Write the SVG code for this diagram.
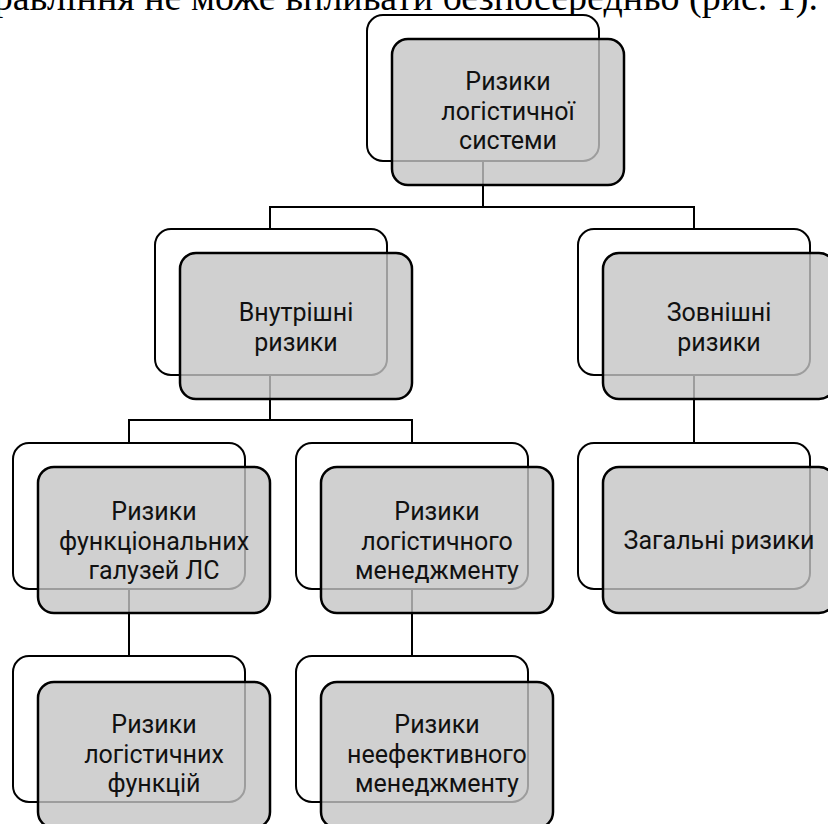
<svg xmlns="http://www.w3.org/2000/svg" width="828" height="824" viewBox="0 0 828 824">
<style>
.bg{fill:#fff}
.back{fill:#fff;stroke:#000;stroke-width:2}
.front{fill:#c4c4c4;fill-opacity:0.8;stroke:#000;stroke-width:2.5}
.lbl{font-family:Roboto,"Open Sans",sans-serif;font-size:25px;fill:#111;text-anchor:middle}
.conn{fill:none;stroke:#000;stroke-width:2}
.top{font-family:"Liberation Serif","Times New Roman",serif;font-size:38px;fill:#000;text-anchor:end}
</style>
<rect class="bg" x="0" y="0" width="828" height="824"/>
<text class="top" x="818" y="10">управління не може впливати безпосередньо (рис. 1).</text>
<g id="connectors">
<path class="conn" d="M483 160V207M270 229V207H694V229"/>
<path class="conn" d="M270 374V420M129 443V420H412V443"/>
<path class="conn" d="M694 375V443"/>
<path class="conn" d="M129 589V656"/>
<path class="conn" d="M412 589V656"/>
</g>
<g id="root">
<rect class="back" x="367" y="15" width="232" height="146" rx="16"/>
<rect class="front" x="392" y="39" width="232" height="146" rx="16"/>
<text class="lbl" x="508" y="90">Ризики</text>
<text class="lbl" x="508" y="119.5">логістичної</text>
<text class="lbl" x="508" y="149">системи</text>
</g>
<g id="internal">
<rect class="back" x="155" y="229" width="232" height="146" rx="16"/>
<rect class="front" x="180" y="253" width="232" height="146" rx="16"/>
<text class="lbl" x="296" y="321">Внутрішні</text>
<text class="lbl" x="296" y="350.5">ризики</text>
</g>
<g id="external">
<rect class="back" x="578" y="229" width="232" height="146" rx="16"/>
<rect class="front" x="603" y="253" width="232" height="146" rx="16"/>
<text class="lbl" x="719" y="321">Зовнішні</text>
<text class="lbl" x="719" y="350.5">ризики</text>
</g>
<g id="functional">
<rect class="back" x="13" y="443" width="232" height="146" rx="16"/>
<rect class="front" x="38" y="467" width="232" height="146" rx="16"/>
<text class="lbl" x="154" y="520">Ризики</text>
<text class="lbl" x="154" y="549.5">функціональних</text>
<text class="lbl" x="154" y="579">галузей ЛС</text>
</g>
<g id="management">
<rect class="back" x="296" y="443" width="232" height="146" rx="16"/>
<rect class="front" x="321" y="467" width="232" height="146" rx="16"/>
<text class="lbl" x="437" y="520">Ризики</text>
<text class="lbl" x="437" y="549.5">логістичного</text>
<text class="lbl" x="437" y="579">менеджменту</text>
</g>
<g id="general">
<rect class="back" x="578" y="443" width="232" height="146" rx="16"/>
<rect class="front" x="603" y="467" width="232" height="146" rx="16"/>
<text class="lbl" x="719" y="549">Загальні ризики</text>
</g>
<g id="logfunctions">
<rect class="back" x="13" y="656" width="232" height="146" rx="16"/>
<rect class="front" x="38" y="682" width="232" height="146" rx="16"/>
<text class="lbl" x="154" y="733">Ризики</text>
<text class="lbl" x="154" y="762.5">логістичних</text>
<text class="lbl" x="154" y="792">функцій</text>
</g>
<g id="inefficient">
<rect class="back" x="296" y="656" width="232" height="146" rx="16"/>
<rect class="front" x="321" y="682" width="232" height="146" rx="16"/>
<text class="lbl" x="437" y="733">Ризики</text>
<text class="lbl" x="437" y="762.5">неефективного</text>
<text class="lbl" x="437" y="792">менеджменту</text>
</g>
</svg>
